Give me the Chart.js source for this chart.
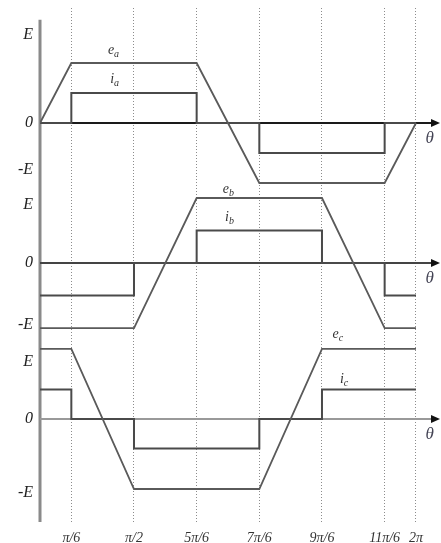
<!DOCTYPE html>
<html>
<head>
<meta charset="utf-8">
<script src="https://cdn.jsdelivr.net/npm/chart.js@4"></script>
<style>
  body { margin: 0; background: #fff; }
  #wrap { width: 441px; height: 543px; position: relative; }
</style>
</head>
<body>
<div id="wrap"><canvas id="waves"></canvas></div>
<script>
// corner angles of each phase, degrees
const thetaA = [0, 30, 150, 210, 330, 360]
const thetaB = [0, 90, 150, 270, 330, 360]
const thetaC = [0, 30, 90, 210, 270, 360]

// back-emf in units of E
const emfA = [0, 1, 1, -1, -1, 0]
const emfB = [-1, -1, 1, 1, -1, -1]
const emfC = [1, 1, -1, -1, 1, 1]

// phase current, held from one angle to the next
const curA = [0, 0.5, 0, -0.5, 0, 0]
const curB = [-0.5, 0, 0.5, 0, -0.5, -0.5]
const curC = [0.42, 0, -0.42, 0, 0.42, 0.42]

const xTicks = [30, 90, 150, 210, 270, 330, 360]
const xTickLabels = ['π/6', 'π/2', '5π/6', '7π/6', '9π/6', '11π/6', '2π']

const yTickLabels = ['-E', '0', 'E']
const yTicksA = [-0.78, 0, 1.47]
const yTicksB = [-0.95, 0, 0.89]
const yTicksC = [-1.06, 0, 0.81]

const serif = 'Liberation Serif, DejaVu Serif, serif'

const pts = (xs, ys) => xs.map((x, i) => ({x: x, y: ys[i]}))

const emfLine = (xs, ys, axis) => ({
  data: pts(xs, ys), yAxisID: axis,
  borderColor: '#5a5a5a', borderWidth: 1.8, pointRadius: 0, tension: 0
})
const curLine = (xs, ys, axis) => ({
  data: pts(xs, ys), yAxisID: axis, stepped: 'before',
  borderColor: '#4a4a4a', borderWidth: 2, pointRadius: 0
})

const yScale = (vals, min, max, weight, stackWeight) => ({
  type: 'linear', position: 'left', stack: 'phases', weight: weight, stackWeight: stackWeight,
  min: min, max: max,
  grid: {display: false, drawTicks: false},
  border: {display: false},
  afterBuildTicks: s => { s.ticks = vals.map(v => ({value: v})) },
  afterFit: s => { s.width = 40; s.paddingTop = 0; s.paddingBottom = 0 },
  ticks: {
    autoSkip: false, padding: 7, color: '#222',
    font: {family: serif, style: 'italic', size: 16},
    callback: (v, i) => yTickLabels[i]
  }
})

// zero axes with arrows, and the vertical axis
const axesPlugin = {
  id: 'axes',
  beforeDatasetsDraw(chart) {
    const {ctx, chartArea} = chart
    const ya = chart.scales.ya
    ctx.save()
    ctx.strokeStyle = '#8a8a8a'
    ctx.lineWidth = 3
    ctx.beginPath()
    ctx.moveTo(chartArea.left, ya.getPixelForValue(1.72))
    ctx.lineTo(chartArea.left, chartArea.bottom)
    ctx.stroke()
    const cols = {ya: '#1a1a1a', yb: '#444', yc: '#999'}
    for (const id of ['ya', 'yb', 'yc']) {
      const y0 = Math.round(chart.scales[id].getPixelForValue(0))
      const tip = chartArea.right
      ctx.strokeStyle = cols[id]
      ctx.fillStyle = '#111'
      ctx.lineWidth = 2
      ctx.beginPath()
      ctx.moveTo(chartArea.left, y0)
      ctx.lineTo(tip - 6, y0)
      ctx.stroke()
      ctx.beginPath()
      ctx.moveTo(tip, y0)
      ctx.lineTo(tip - 9, y0 - 4)
      ctx.lineTo(tip - 9, y0 + 4)
      ctx.closePath()
      ctx.fill()
    }
    ctx.restore()
  }
}

const tags = [
  {t: 'e', s: 'a', axis: 'ya', x: 70, y: 1, up: 12},
  {t: 'i', s: 'a', axis: 'ya', x: 70, y: 0.5, up: 13},
  {t: 'e', s: 'b', axis: 'yb', x: 180, y: 1, up: 8},
  {t: 'i', s: 'b', axis: 'yb', x: 180, y: 0.5, up: 12},
  {t: 'e', s: 'c', axis: 'yc', x: 285, y: 1, up: 14},
  {t: 'i', s: 'c', axis: 'yc', x: 290, y: 0.42, up: 9}
]

const labelPlugin = {
  id: 'labels',
  afterDatasetsDraw(chart) {
    const {ctx} = chart
    const xs = chart.scales.x
    ctx.save()
    ctx.fillStyle = '#333'
    ctx.textBaseline = 'middle'
    for (const g of tags) {
      const px = xs.getPixelForValue(g.x)
      const py = chart.scales[g.axis].getPixelForValue(g.y) - g.up
      ctx.font = 'italic 14px ' + serif
      ctx.textAlign = 'right'
      ctx.fillText(g.t, px + 1, py - 1)
      ctx.font = 'italic 10px ' + serif
      ctx.textAlign = 'left'
      ctx.fillText(g.s, px + 1, py + 3)
    }
    // theta next to each arrow
    ctx.font = 'italic 17px ' + serif
    ctx.fillStyle = '#445'
    ctx.textAlign = 'center'
    for (const id of ['ya', 'yb', 'yc']) {
      const y0 = chart.scales[id].getPixelForValue(0)
      ctx.fillText('θ', xs.getPixelForValue(373), y0 + 16)
    }
    ctx.restore()
  }
}

new Chart(document.getElementById('waves'), {
  type: 'line',
  data: {
    datasets: [
      emfLine(thetaA, emfA, 'ya'), curLine(thetaA, curA, 'ya'),
      emfLine(thetaB, emfB, 'yb'), curLine(thetaB, curB, 'yb'),
      emfLine(thetaC, emfC, 'yc'), curLine(thetaC, curC, 'yc')
    ]
  },
  options: {
    responsive: true,
    maintainAspectRatio: false,
    animation: false,
    layout: {padding: {top: 8, right: 1, left: 0, bottom: 0}},
    plugins: {legend: {display: false}, tooltip: {enabled: false}},
    scales: {
      x: {
        type: 'linear', min: 0, max: 383,
        grid: {color: '#8c8c8c', lineWidth: 1, drawTicks: false},
        border: {display: false, dash: [1, 2]},
        afterBuildTicks: s => { s.ticks = xTicks.map(v => ({value: v})) },
        afterFit: s => { s.height = 21; s.paddingLeft = 0; s.paddingRight = 0 },
        ticks: {
          autoSkip: false, maxRotation: 0, padding: 8, color: '#333',
          font: {family: serif, style: 'italic', size: 14},
          callback: (v, i) => xTickLabels[i]
        }
      },
      ya: yScale(yTicksA, -1.117, 1.917, 3, 182),
      yb: yScale(yTicksB, -1.138, 1.123, 2, 147),
      yc: yScale(yTicksC, -1.471, 1.171, 1, 185)
    }
  },
  plugins: [axesPlugin, labelPlugin]
})
</script>
</body>
</html>
